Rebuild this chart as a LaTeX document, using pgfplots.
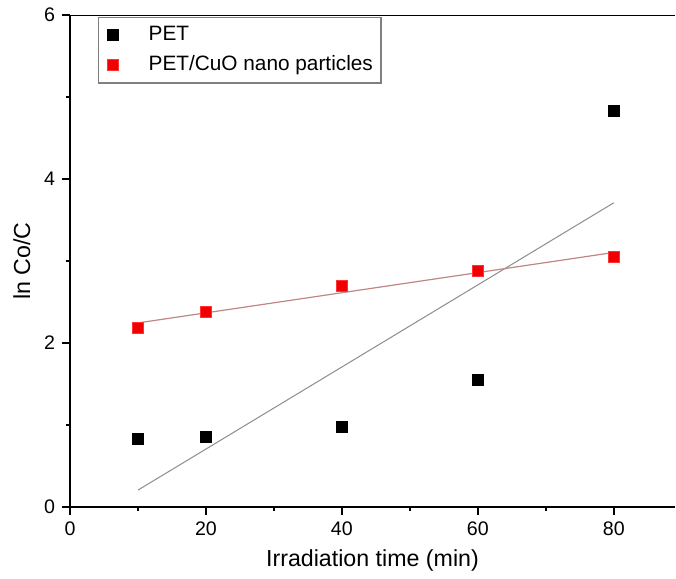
\documentclass[border=0pt]{standalone}
\usepackage{fontspec}
\setmainfont{Liberation Sans}
\usepackage{pgfplots}
\pgfplotsset{compat=1.18}
\definecolor{fitgray}{HTML}{8C8C8C}
\definecolor{fitred}{HTML}{C08585}
\definecolor{mred}{HTML}{F00000}
\begin{document}
\begin{tikzpicture}
\begin{axis}[
  scale only axis, width=302.5pt, height=246pt,
  xmin=0, xmax=89, ymin=0, ymax=6,
  axis x line*=bottom, axis y line*=left,
  xtick={0,20,40,60,80}, minor xtick={10,30,50,70},
  ytick={0,2,4,6}, minor ytick={1,3,5},
  tick align=outside, major tick length=4pt, minor tick length=2pt,
  tick style={black, line width=0.8pt},
  axis line style={black, line width=1pt},
  /pgf/number format/assume math mode=true,
  ticklabel style={font=\fontsize{9.8}{11}\selectfont},
  xlabel={Irradiation time (min)}, ylabel={ln Co/C},
  label style={font=\fontsize{11.6}{13}\selectfont},
  legend style={at={(0.046,0.996)}, anchor=north west, draw=gray, line width=0.6pt,
    font=\fontsize{10.4}{12}\selectfont, row sep=2pt, inner xsep=2pt, inner ysep=2.5pt,
    cells={anchor=west}},
  legend image code/.code={\path (0pt,0pt) (20.5pt,0pt); \path[#1] plot[only marks] coordinates {(5pt,0pt)};},
]
\addplot[only marks, mark=square*, mark size=2.75pt, mark options={fill=black, draw=black}]
  coordinates {(10,0.83) (20,0.85) (40,0.98) (60,1.55) (80,4.83)};
\addlegendentry{PET}
\addplot[only marks, mark=square*, mark size=2.75pt, mark options={fill=mred, draw=red!80!white}]
  coordinates {(10,2.18) (20,2.38) (40,2.70) (60,2.88) (80,3.05)};
\addlegendentry{PET/CuO nano particles}
\addplot[forget plot, fitgray, line width=0.5pt] coordinates {(10,0.206) (80,3.71)};
\addplot[forget plot, fitred, line width=0.6pt] coordinates {(10,2.245) (80,3.104)};
\draw[black, line width=1pt] (rel axis cs:0,1) -- (rel axis cs:1,1);
\end{axis}
\pgfresetboundingbox
\path[use as bounding box] ([xshift=-35pt,yshift=-36pt]current axis.south west) rectangle ++(338pt,289.5pt);
\end{tikzpicture}
\end{document}
